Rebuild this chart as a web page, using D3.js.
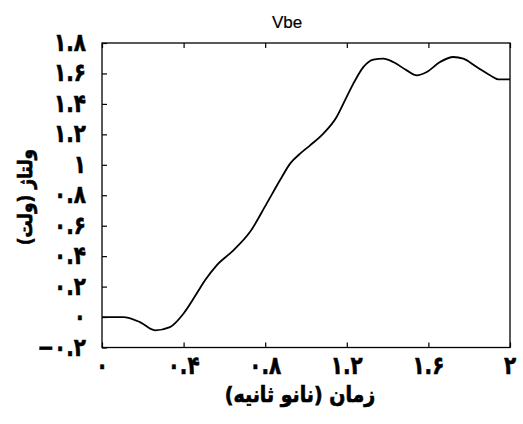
<!DOCTYPE html>
<html>
<head>
<meta charset="utf-8">
<script src="https://cdn.jsdelivr.net/npm/d3@7"></script>
<style>
  body { margin: 0; background: #fff; }
  .tick-label { font-family: "DejaVu Sans", sans-serif; font-weight: bold; fill: #000; stroke: #000; stroke-width: 0.5; }
</style>
</head>
<body>
<div id="chart"></div>
<script>
// curve: time (ns) and Vbe (V)
var timeNs = [0, 0.104, 0.186, 0.26, 0.333, 0.399, 0.464, 0.505, 0.562, 0.644, 0.725, 0.807, 0.873, 0.922,
              0.971, 1.02, 1.085, 1.15, 1.191, 1.232, 1.281, 1.33, 1.379, 1.428, 1.494, 1.543, 1.592, 1.657,
              1.722, 1.771, 1.837, 1.902, 1.943, 2];
var vbe = [0, 0, -0.033, -0.087, -0.066, 0.022, 0.154, 0.241, 0.34, 0.438, 0.558, 0.745, 0.9, 1.008,
           1.073, 1.128, 1.205, 1.314, 1.423, 1.533, 1.642, 1.691, 1.697, 1.675, 1.62, 1.588, 1.61, 1.675,
           1.708, 1.697, 1.642, 1.588, 1.561, 1.561];
var xTicks = [0, 0.4, 0.8, 1.2, 1.6, 2];
var xTickLabels = ["۰", "۰.۴", "۰.۸", "۱.۲", "۱.۶", "۲"];
var yTicks = [-0.2, 0, 0.2, 0.4, 0.6, 0.8, 1, 1.2, 1.4, 1.6, 1.8];
var yTickLabels = ["−۰.۲", "۰", "۰.۲", "۰.۴", "۰.۶", "۰.۸", "۱", "۱.۲", "۱.۴", "۱.۶", "۱.۸"];

function main() {
    var width = 523, height = 424;
    var left = 102, right = 510, top = 43, bottom = 347.5;

    var x = d3.scaleLinear().domain([0, 2]).range([left, right]);
    var y = d3.scaleLinear().domain([-0.2, 1.8]).range([bottom, top]);

    var svg = d3.select("#chart").append("svg").attr("width", width).attr("height", height);

    // inward ticks on bottom, top and left
    svg.append("g").attr("transform", "translate(0," + bottom + ")")
      .call(d3.axisBottom(x).tickValues(xTicks).tickSize(-5).tickFormat(""))
      .call(function (g) { g.select(".domain").remove(); });
    svg.append("g").attr("transform", "translate(0," + top + ")")
      .call(d3.axisTop(x).tickValues(xTicks).tickSize(-5).tickFormat(""))
      .call(function (g) { g.select(".domain").remove(); });
    svg.append("g").attr("transform", "translate(" + left + ",0)")
      .call(d3.axisLeft(y).tickValues(yTicks).tickSize(-5).tickFormat(""))
      .call(function (g) { g.select(".domain").remove(); });
    svg.selectAll(".tick line").attr("stroke", "#000").attr("stroke-width", 1.2);

    svg.append("rect").attr("x", left).attr("y", top)
      .attr("width", right - left).attr("height", bottom - top)
      .attr("fill", "none").attr("stroke", "#000").attr("stroke-width", 1.3);

    // tick labels (Persian digits), drawn a bit taller than wide like the original
    svg.selectAll(".xl").data(xTicks).enter().append("text")
      .attr("class", "tick-label")
      .attr("transform", function (d) { return "translate(" + x(d) + ",374) scale(0.95,1.2)"; })
      .attr("text-anchor", "middle")
      .style("font-size", "21px")
      .text(function (d, i) { return xTickLabels[i]; });

    svg.selectAll(".yl").data(yTicks).enter().append("text")
      .attr("class", "tick-label")
      .attr("transform", function (d) { return "translate(86," + (y(d) + 8) + ") scale(0.95,1.2)"; })
      .attr("text-anchor", "end")
      .style("font-size", "21px")
      .text(function (d, i) { return yTickLabels[i]; });

    var line = d3.line()
      .x(function (d, i) { return x(timeNs[i]); })
      .y(function (d) { return y(d); })
      .curve(d3.curveMonotoneX);

    svg.append("path").datum(vbe)
      .attr("d", line)
      .attr("fill", "none")
      .attr("stroke", "#000")
      .attr("stroke-width", 1.8);

    svg.append("text").attr("x", 287).attr("y", 28)
      .attr("text-anchor", "middle")
      .style("font-family", "'Liberation Sans', Arial, sans-serif")
      .style("font-size", "17px")
      .style("stroke", "#000").style("stroke-width", 0.2)
      .text("Vbe");

    svg.append("text").attr("transform", "translate(300,402) scale(1,1.15)")
      .attr("text-anchor", "middle")
      .attr("direction", "rtl")
      .style("font-family", "'DejaVu Sans', sans-serif")
      .style("font-weight", "bold")
      .style("font-size", "19px")
      .style("stroke", "#000").style("stroke-width", 0.6)
      .text("زمان (نانو ثانیه)");

    svg.append("text")
      .attr("transform", "translate(32,197) rotate(-90) scale(1,1.15)")
      .attr("text-anchor", "middle")
      .attr("direction", "rtl")
      .style("font-family", "'DejaVu Sans', sans-serif")
      .style("font-weight", "bold")
      .style("font-size", "17px")
      .style("stroke", "#000").style("stroke-width", 0.6)
      .text("ولتاژ (ولت)");
}

main();
</script>
</body>
</html>
